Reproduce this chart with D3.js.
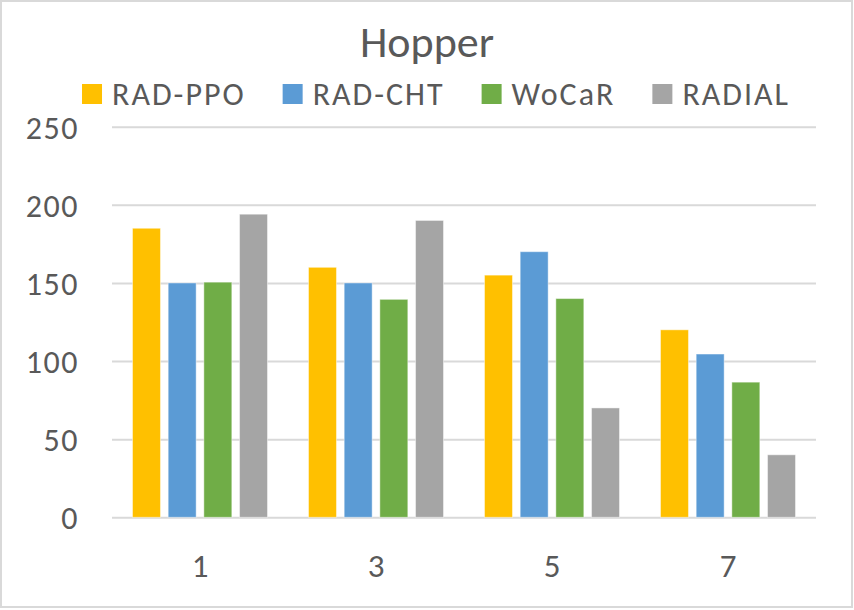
<!DOCTYPE html>
<html>
<head>
<meta charset="utf-8">
<script src="https://cdn.jsdelivr.net/npm/d3@7"></script>
<style>
  html, body { margin: 0; padding: 0; background: #fff; }
  svg { display: block; }
  text { font-family: Carlito, Calibri, Lato, sans-serif; fill: #595959; }
</style>
</head>
<body>
<svg id="chart" width="854" height="610"></svg>
<script>
const title = "Hopper";
const categories = ["1", "3", "5", "7"];
const seriesNames = ["RAD-PPO", "RAD-CHT", "WoCaR", "RADIAL"];
const radPPO = [185, 160, 155, 120];
const radCHT = [150, 150, 170, 104.5];
const woCaR = [150.5, 139.5, 140, 86.5];
const radial = [194, 190, 70, 40];
const colors = ["#FFC000", "#5B9BD5", "#70AD47", "#A5A5A5"];
const yTicks = [0, 50, 100, 150, 200, 250];

const seriesValues = [radPPO, radCHT, woCaR, radial];

const svg = d3.select("#chart");
const W = 854, H = 610;
const FONT = "Carlito, Calibri, Lato, sans-serif";

// outer border
svg.append("rect")
  .attr("x", 1).attr("y", 1).attr("width", W - 3).attr("height", H - 4)
  .attr("fill", "#fff").attr("stroke", "#d9d9d9").attr("stroke-width", 2);

const plot = { left: 112, right: 816, top: 126.7, bottom: 517.3 };

const y = d3.scaleLinear().domain([0, 250]).range([plot.bottom, plot.top]);
const x0 = d3.scaleBand().domain(categories).range([plot.left, plot.right]).padding(0);
const groupPad = 20.5;
const x1 = d3.scaleBand().domain(seriesNames)
  .range([groupPad, x0.bandwidth() - groupPad]).paddingInner(0.216).paddingOuter(0);

// gridlines + y labels
const yAxis = d3.axisLeft(y).tickValues(yTicks).tickSize(-(plot.right - plot.left)).tickPadding(0);
const gy = svg.append("g").attr("transform", `translate(${plot.left},0)`).call(yAxis);
gy.select(".domain").remove();
gy.selectAll(".tick line").attr("stroke", "#d9d9d9").attr("stroke-width", 2);
gy.selectAll(".tick text")
  .attr("font-size", 32).attr("fill", "#595959")
  .style("font-family", FONT)
  .style("letter-spacing", "1.5px")
  .attr("x", -33)
  .attr("dy", "0.36em");

// bars
const data = [];
categories.forEach((c, i) => {
  seriesNames.forEach((s, j) => data.push({ cat: c, ser: s, val: seriesValues[j][i], color: colors[j] }));
});
svg.append("g").selectAll("rect").data(data).join("rect")
  .attr("x", d => x0(d.cat) + x1(d.ser))
  .attr("y", d => y(d.val))
  .attr("width", x1.bandwidth())
  .attr("height", d => y(0) - y(d.val))
  .attr("fill", d => d.color)
  .attr("stroke", "#fff").attr("stroke-opacity", 0.45).attr("stroke-width", 1);

// x axis labels
const xAxis = d3.axisBottom(x0).tickSize(0).tickPadding(0);
const gx = svg.append("g").attr("transform", `translate(0,${plot.bottom})`).call(xAxis);
gx.select(".domain").remove();
gx.selectAll(".tick text")
  .attr("font-size", 33).attr("fill", "#595959")
  .style("font-family", FONT)
  .attr("y", 60).attr("dy", 0);

// title
svg.append("text").attr("x", 427).attr("y", 56.5)
  .attr("text-anchor", "middle").attr("font-size", 44).text(title);

// legend
const lg = svg.append("g");
const items = [];
seriesNames.forEach((s, j) => {
  const g = lg.append("g");
  g.append("rect").attr("x", 0).attr("y", -10).attr("width", 20).attr("height", 20)
    .attr("fill", colors[j]);
  const t = g.append("text").attr("x", 30).attr("y", 10.5).attr("font-size", 32)
    .style("letter-spacing", "2px").text(s);
  const w = 30 + t.node().getComputedTextLength();
  items.push({ g, w });
});
const gap = 37;
const total = d3.sum(items, d => d.w) + gap * (items.length - 1);
let start = 436 - total / 2;
items.forEach(it => {
  it.g.attr("transform", `translate(${start},94)`);
  start += it.w + gap;
});
</script>
</body>
</html>
